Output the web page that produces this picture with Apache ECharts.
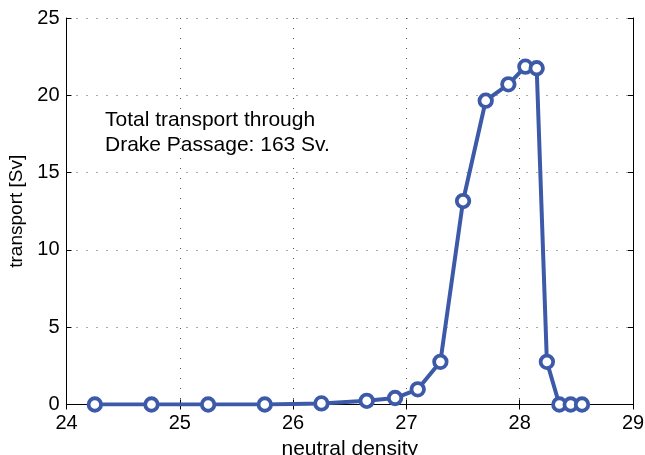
<!DOCTYPE html>
<html>
<head>
<meta charset="utf-8">
<script src="https://cdn.jsdelivr.net/npm/echarts@6/dist/echarts.min.js"></script>
<style>
  html, body { margin: 0; padding: 0; background: #fff; }
  #chart { width: 645px; height: 455px; }
</style>
</head>
<body>
<div id="chart"></div>
<script>
// Transport per neutral density class through Drake Passage
const density = [24.25, 24.75, 25.25, 25.75, 26.25, 26.65, 26.9, 27.1, 27.3, 27.5, 27.7, 27.9, 28.05, 28.15, 28.24, 28.35, 28.45, 28.55];
const transport = [0, 0, 0, 0, 0.07, 0.24, 0.42, 0.98, 2.76, 13.16, 19.65, 20.71, 21.85, 21.75, 2.76, 0, 0, 0];
const xTicks = [24, 25, 26, 27, 28, 29];
const yTicks = [0, 5, 10, 15, 20, 25];
const noteLines = ['Total transport through', 'Drake Passage: 163 Sv.'];

const font = 'Liberation Sans, Arial, Helvetica, sans-serif';
const gridDots = { color: '#555', width: 1, type: [1, 9] };
const blue = '#3d5aa9';

const chart = echarts.init(document.getElementById('chart'), null, { renderer: 'canvas' });

// top and right frame lines with inward ticks, no labels
const frameAxis = {
  axisLine: { show: true, lineStyle: { color: '#000', width: 1 } },
  axisTick: { show: true, inside: true, length: 5, lineStyle: { color: '#000' } },
  axisLabel: { show: false },
  splitLine: { show: false }
};

chart.setOption({
  animation: false,
  backgroundColor: '#fff',
  grid: { left: 66.5, right: 12, top: 18, bottom: 50.5, containLabel: false, outerBoundsMode: 'none' },
  xAxis: [
    {
      type: 'value', min: xTicks[0], max: xTicks[xTicks.length - 1], interval: 1,
      name: 'neutral density', nameLocation: 'middle', nameGap: 29,
      nameTextStyle: { fontFamily: font, fontSize: 21, color: '#000' },
      axisLine: { show: true, lineStyle: { color: '#000', width: 1 } },
      axisTick: { show: true, inside: true, length: 5, lineStyle: { color: '#000' } },
      axisLabel: { fontFamily: font, fontSize: 20, color: '#000', margin: 9 },
      splitLine: { show: true, lineStyle: gridDots }
    },
    Object.assign({ type: 'value', position: 'top', min: xTicks[0], max: xTicks[xTicks.length - 1], interval: 1 }, frameAxis)
  ],
  yAxis: [
    {
      type: 'value', min: yTicks[0], max: yTicks[yTicks.length - 1], interval: 5,
      name: 'transport [Sv]', nameLocation: 'middle', nameGap: 35, nameRotate: 90,
      nameTextStyle: { fontFamily: font, fontSize: 19, color: '#000' },
      axisLine: { show: true, lineStyle: { color: '#000', width: 1 } },
      axisTick: { show: true, inside: true, length: 5, lineStyle: { color: '#000' } },
      axisLabel: { fontFamily: font, fontSize: 20, color: '#000', margin: 7 },
      splitLine: { show: true, lineStyle: gridDots }
    },
    Object.assign({ type: 'value', position: 'right', min: yTicks[0], max: yTicks[yTicks.length - 1], interval: 5 }, frameAxis)
  ],
  series: [{
    type: 'line',
    data: density.map((d, i) => [d, transport[i]]),
    symbol: 'circle',
    symbolSize: 12.5,
    showAllSymbol: true,
    lineStyle: { color: blue, width: 4 },
    itemStyle: { color: '#fff', borderColor: blue, borderWidth: 3.8 },
    z: 5
  }],
  graphic: [{
    type: 'text',
    left: 105, top: 108,
    style: {
      text: noteLines.join('\n'),
      fontFamily: font, fontSize: 21, lineHeight: 25, fill: '#000'
    }
  }]
});
</script>
</body>
</html>
